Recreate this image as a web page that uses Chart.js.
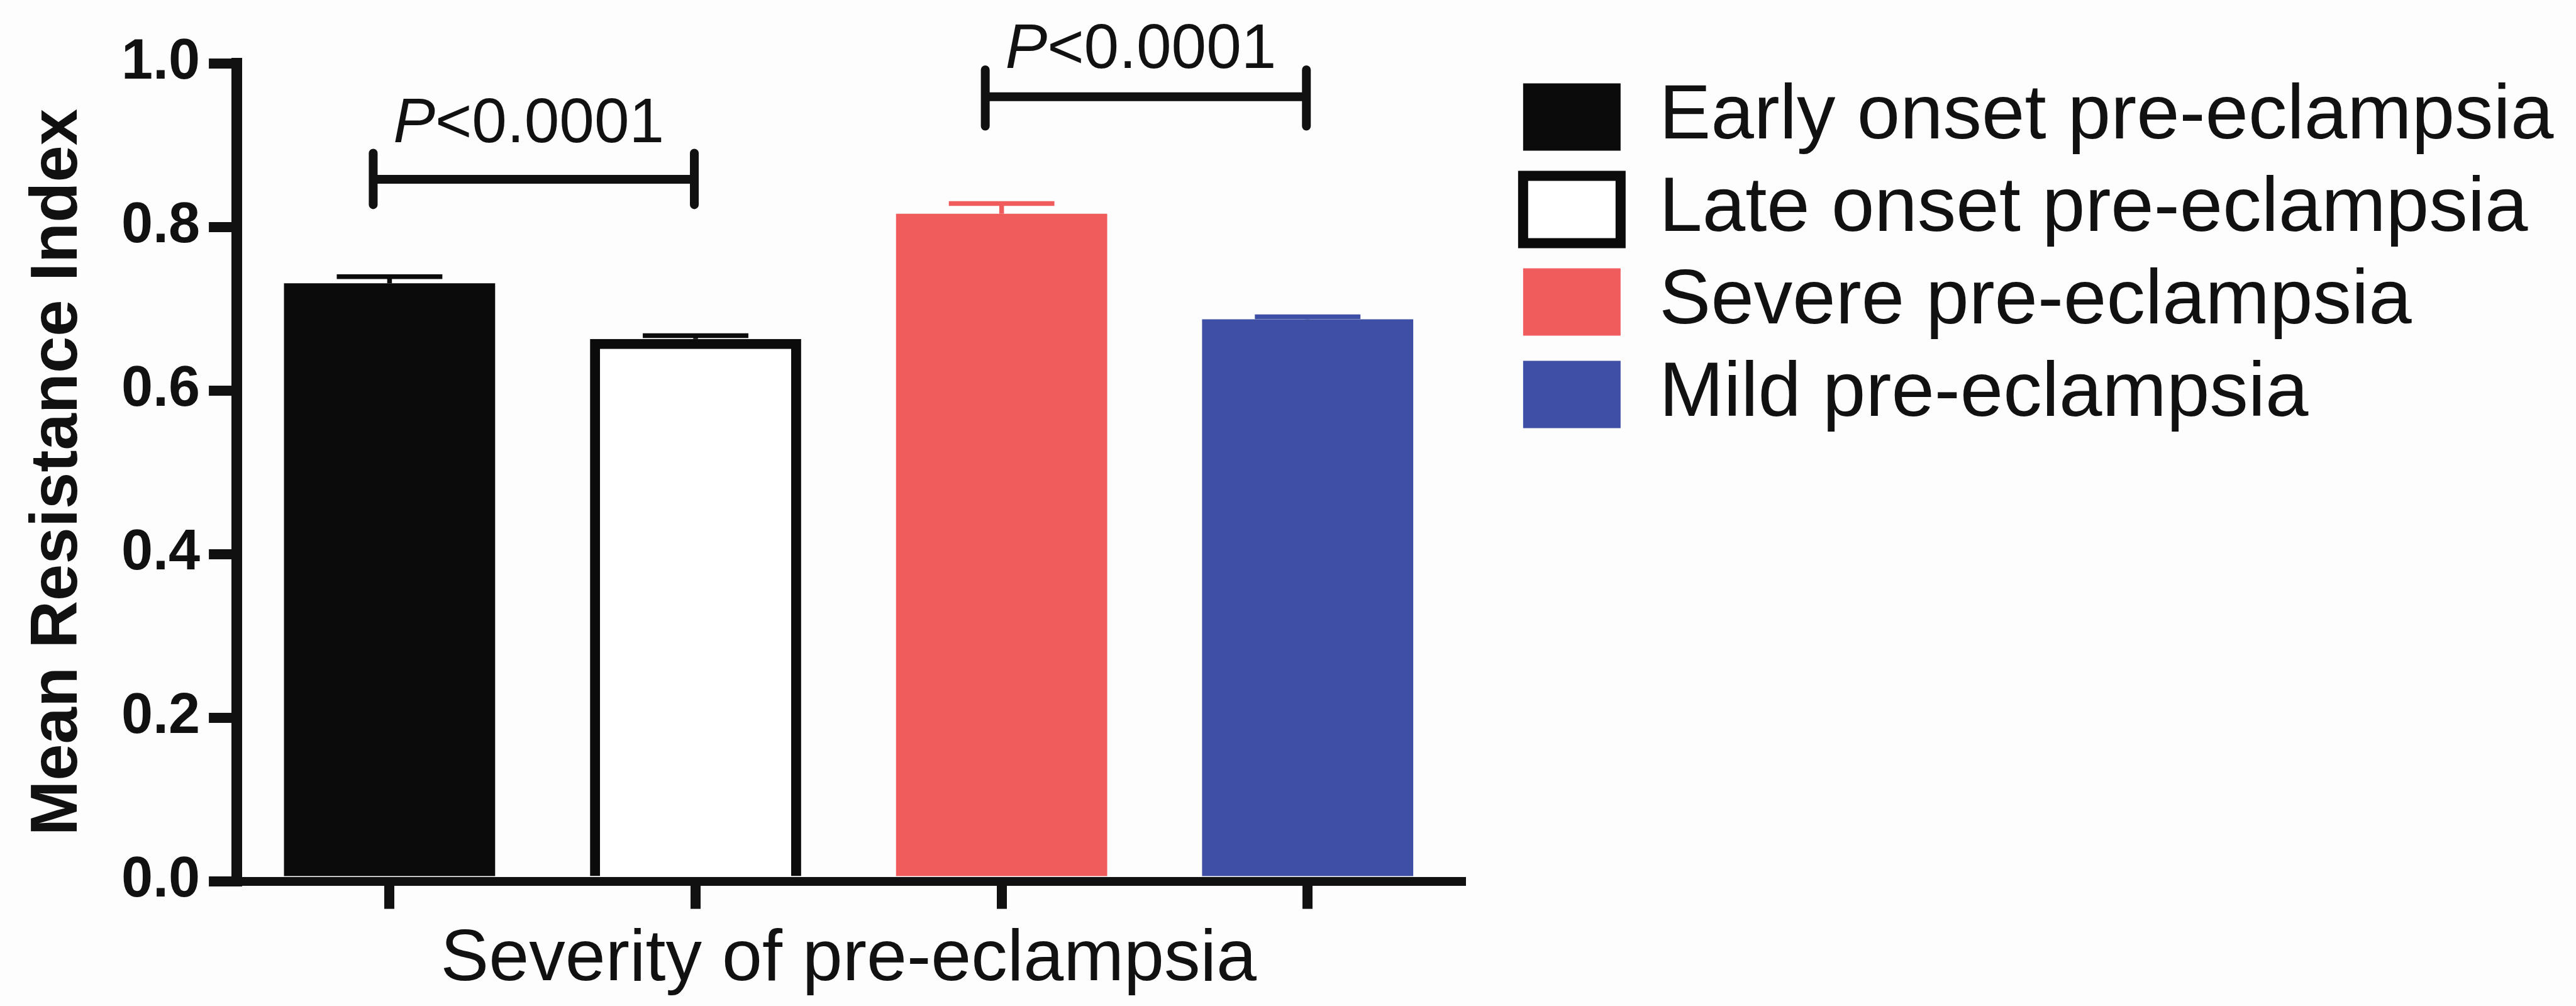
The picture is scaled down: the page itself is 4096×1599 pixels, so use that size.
<!DOCTYPE html>
<html>
<head>
<meta charset="utf-8">
<title>Mean Resistance Index by severity of pre-eclampsia</title>
<script src="https://cdn.jsdelivr.net/npm/chart.js@4.4.1/dist/chart.umd.min.js"></script>
<style>
  html, body { margin: 0; padding: 0; background: #fdfdfd; }
  #wrap { width: 4096px; height: 1599px; }
  canvas { display: block; }
</style>
</head>
<body>
<div id="wrap"><canvas id="chart" width="4096" height="1599"></canvas></div>
<script>
// ---- data ----
const categories = ['Early onset', 'Late onset', 'Severe', 'Mild'];
const seriesLabels = [
  'Early onset pre-eclampsia',
  'Late onset pre-eclampsia',
  'Severe pre-eclampsia',
  'Mild pre-eclampsia'
];
const meanRI = [0.731, 0.663, 0.816, 0.687];   // mean resistance index
const semRI  = [0.008, 0.004, 0.0125, 0.003];  // standard error of the mean
const yTickValues = [0.0, 0.2, 0.4, 0.6, 0.8, 1.0];
const comparePairs = [[0, 1], [2, 3]];
const compareP = ['<0.0001', '<0.0001'];

// ---- styles ----
const INK = '#111111';
const fills = ['#0b0b0b', '#ffffff', '#f05b5c', '#3e4fa5'];
const edges = ['#0b0b0b', '#0b0b0b', '#f05b5c', '#3e4fa5'];
const edgeWidths = [0, 16, 0, 0];
const FONT = '"Liberation Sans", Arial, Helvetica, sans-serif';

Chart.defaults.font.family = FONT;
Chart.defaults.color = INK;

const datasets = seriesLabels.map((label, i) => ({
  label,
  data: categories.map((_, j) => (j === i ? meanRI[i] : null)),
  backgroundColor: fills[i],
  borderColor: edges[i],
  borderWidth: edgeWidths[i],
  borderSkipped: 'start',
  errorColor: edges[i],
  barPercentage: 0.69,
  categoryPercentage: 1.0
}));

// mean + SEM whiskers, drawn upward from each bar top
const errorBars = {
  id: 'errorBars',
  afterDatasetsDraw(chart) {
    const ctx = chart.ctx;
    const y = chart.scales.y;
    chart.data.datasets.forEach((ds, i) => {
      const bar = chart.getDatasetMeta(i).data[i];
      if (!bar) return;
      const { x, width } = bar.getProps(['x', 'width'], true);
      const top = y.getPixelForValue(meanRI[i]);
      const hi = y.getPixelForValue(meanRI[i] + semRI[i]);
      const half = width / 4;
      ctx.save();
      ctx.strokeStyle = ds.errorColor;
      ctx.lineWidth = 7.5;
      ctx.beginPath();
      ctx.moveTo(x, top);
      ctx.lineTo(x, hi);
      ctx.moveTo(x - half, hi);
      ctx.lineTo(x + half, hi);
      ctx.stroke();
      ctx.restore();
    });
  }
};

// significance brackets with P value labels
const brackets = {
  id: 'brackets',
  afterDraw(chart, args, opts) {
    const ctx = chart.ctx;
    const xs = chart.scales.x;
    const ys = chart.scales.y;
    comparePairs.forEach((pair, k) => {
      const lv = opts.levels[k];
      const x1 = xs.getPixelForValue(pair[0]) - opts.extend + opts.shift;
      const x2 = xs.getPixelForValue(pair[1]) + opts.extend + opts.shift;
      const yMid = ys.getPixelForValue(lv.bar);
      const yTop = ys.getPixelForValue(lv.endTop);
      const yBot = ys.getPixelForValue(lv.endBottom);
      ctx.save();
      ctx.strokeStyle = INK;
      ctx.lineWidth = opts.lineWidth;
      ctx.lineCap = 'butt';
      ctx.beginPath();
      ctx.moveTo(x1, yMid);
      ctx.lineTo(x2, yMid);
      ctx.stroke();
      ctx.lineCap = 'round';
      ctx.beginPath();
      ctx.moveTo(x1, yTop); ctx.lineTo(x1, yBot);
      ctx.moveTo(x2, yTop); ctx.lineTo(x2, yBot);
      ctx.stroke();

      // italic P followed by the value
      const size = opts.fontSize;
      const italic = `italic ${size}px ${FONT}`;
      const upright = `${size}px ${FONT}`;
      ctx.font = italic;
      const wP = ctx.measureText('P').width;
      ctx.font = upright;
      const wV = ctx.measureText(compareP[k]).width;
      const cx = (x1 + x2) / 2 + opts.textShift;
      const base = ys.getPixelForValue(lv.text);
      const tx = cx - (wP + wV) / 2;
      ctx.fillStyle = INK;
      ctx.textAlign = 'left';
      ctx.textBaseline = 'alphabetic';
      ctx.font = italic;
      ctx.fillText('P', tx, base);
      ctx.font = upright;
      ctx.fillText(compareP[k], tx + wP, base);
      ctx.restore();
    });
  }
};

new Chart(document.getElementById('chart'), {
  type: 'bar',
  data: { labels: categories, datasets },
  plugins: [errorBars, brackets],
  options: {
    responsive: false,
    animation: false,
    devicePixelRatio: 1,
    skipNull: true,
    layout: { padding: { top: 100.5, right: 25.7, bottom: 0, left: 0 } },
    plugins: {
      tooltip: { enabled: false },
      legend: {
        position: 'right',
        align: 'start',
        maxWidth: 2000,
        labels: {
          boxWidth: 155,
          boxHeight: 107,
          padding: 24,
          color: INK,
          font: { size: 123 }
        }
      },
      brackets: {
        lineWidth: 14,
        fontSize: 100,
        extend: 12,
        shift: -14,
        textShift: -8,
        levels: [
          { bar: 0.858, endTop: 0.890, endBottom: 0.827, text: 0.9036 },
          { bar: 0.959, endTop: 0.992, endBottom: 0.923, text: 0.9942 }
        ]
      }
    },
    scales: {
      x: {
        type: 'category',
        offset: true,
        grid: {
          display: true,
          drawOnChartArea: false,
          drawTicks: true,
          tickLength: 44,
          lineWidth: 16,
          color: INK,
          offset: false
        },
        border: { display: true, width: 14, color: INK, z: 1 },
        ticks: { display: false },
        title: {
          display: true,
          text: 'Severity of pre-eclampsia',
          color: INK,
          font: { size: 115 },
          padding: { top: 12.8, bottom: 3.6 }
        }
      },
      y: {
        type: 'linear',
        position: 'left',
        min: 0,
        max: 1,
        afterBuildTicks(scale) {
          scale.ticks = yTickValues.map(v => ({ value: v }));
        },
        grid: {
          display: true,
          drawOnChartArea: false,
          drawTicks: true,
          tickLength: 44,
          lineWidth: 16,
          color: INK
        },
        border: { display: true, width: 17, color: INK, z: 1 },
        ticks: {
          padding: 14,
          color: INK,
          font: { size: 90, weight: 'bold' },
          callback: v => Number(v).toFixed(1)
        },
        title: {
          display: true,
          text: 'Mean Resistance Index',
          color: INK,
          font: { size: 105, weight: 'bold' },
          padding: { top: 30, bottom: 23 }
        }
      },
      // empty spacer between the plot and the key
      gap: {
        type: 'linear',
        position: 'right',
        display: true,
        grid: { display: false, drawTicks: false },
        border: { display: false },
        ticks: { display: false },
        afterFit(scale) { scale.width = 75.3; }
      }
    }
  }
});
</script>
</body>
</html>
